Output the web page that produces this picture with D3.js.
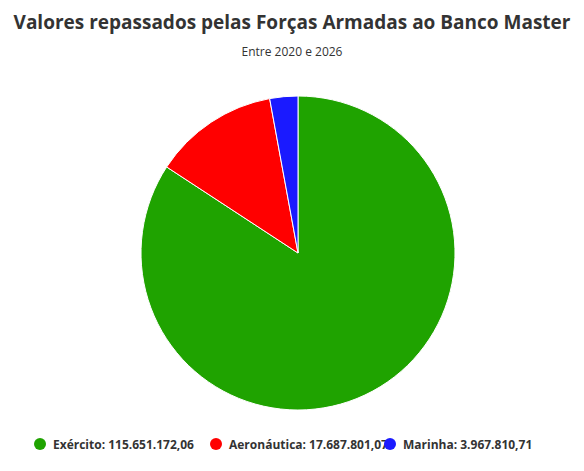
<!DOCTYPE html>
<html><head><meta charset="utf-8">
<script src="https://cdn.jsdelivr.net/npm/d3@7"></script>
<style>body{margin:0;background:#fff;font-family:"Open Sans",sans-serif}</style>
</head><body><svg id="c" width="584" height="471"></svg>
<script>
const categories = ["Exército","Aeronáutica","Marinha"];
const values = [115651172.06, 17687801.07, 3967810.71];
const labels = ["115.651.172,06","17.687.801,07","3.967.810,71"];
const colors = ["#1fa300","#ff0000","#1a1aff"];
const svg = d3.select("#c");
svg.append("text").attr("x",292).attr("y",29).attr("text-anchor","middle")
  .attr("font-size",19).attr("font-weight",700).attr("fill","#333").text("Valores repassados pelas Forças Armadas ao Banco Master");
svg.append("text").attr("x",292).attr("y",56).attr("text-anchor","middle")
  .attr("font-size",12).attr("fill","#333").text("Entre 2020 e 2026");
const data = categories.map((c,i)=>({c,v:values[i],l:labels[i],col:colors[i]}));
const pie = d3.pie().sort(null).value(d=>d.v);
const arc = d3.arc().innerRadius(0).outerRadius(157);
svg.append("g").attr("transform","translate(298,253)").selectAll("path").data(pie(data)).join("path")
  .attr("d",arc).attr("fill",d=>d.data.col).attr("stroke","#fff").attr("stroke-width",1);
const lx = [40,216,390];
const lg = svg.append("g");
data.forEach((d,i)=>{
  lg.append("circle").attr("cx",lx[i]).attr("cy",444).attr("r",6).attr("fill",d.col);
  lg.append("text").attr("x",lx[i]+13).attr("y",449).attr("font-size",12).attr("font-weight",700)
    .attr("fill","#333").text(d.c+": "+d.l);
});
</script></body></html>
